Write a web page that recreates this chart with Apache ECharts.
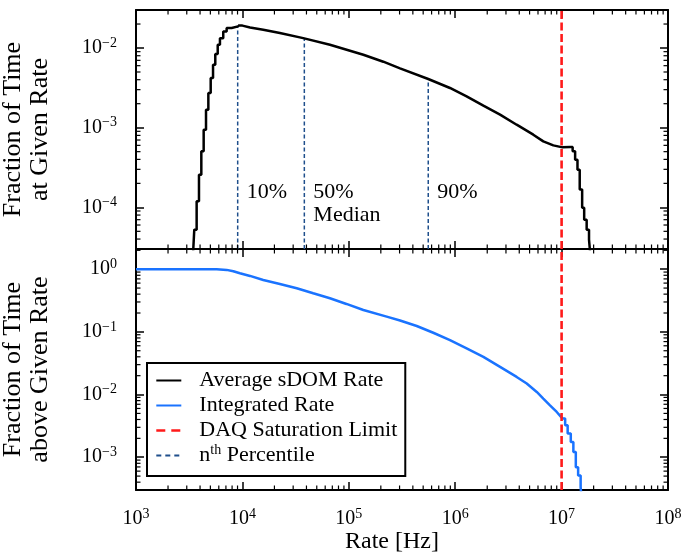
<!DOCTYPE html>
<html>
<head>
<meta charset="utf-8">
<script src="https://cdn.jsdelivr.net/npm/echarts@6/dist/echarts.min.js"></script>
<style>
html,body{margin:0;padding:0;background:#fff;}
#chart{width:685px;height:556px;}
</style>
</head>
<body>
<div id="chart"></div>
<script>
// ---------- data ----------
// Average sDOM rate histogram: rising edge (stepped)
const rateRise = [3400, 3530, 3715, 3908, 4111, 4325, 4550, 4786, 5035, 5297, 5561, 5861, 6152, 6607, 7112, 7925, 9103];
const fracRise = [2e-5, 5.25e-5, 1.19e-4, 2.57e-4, 5.05e-4, 9.44e-4, 1.68e-3, 2.72e-3, 4.20e-3, 6.17e-3, 8.41e-3, 1.10e-2, 1.33e-2, 1.61e-2, 1.78e-2, 1.87e-2, 1.92e-2];
// main body (fine bins)
const rateMain = [9103, 1.0e4, 1.18e4, 1.57e4, 2.25e4, 3.73e4, 6.65e4, 1.37e5, 2.11e5, 3.03e5, 5.58e5, 8.93e5, 1.28e6, 1.84e6, 2.64e6, 3.78e6, 5.42e6, 6.73e6, 8.36e6, 1.02e7, 1.20e7];
const fracMain = [1.92e-2, 1.91e-2, 1.81e-2, 1.70e-2, 1.54e-2, 1.33e-2, 1.10e-2, 8.24e-3, 6.73e-3, 5.56e-3, 4.08e-3, 3.15e-3, 2.47e-3, 1.89e-3, 1.46e-3, 1.09e-3, 8.17e-4, 6.73e-4, 6.00e-4, 5.66e-4, 5.73e-4];
// falling edge (stepped)
const rateFall = [1.20e7, 1.27e7, 1.34e7, 1.41e7, 1.48e7, 1.56e7, 1.63e7, 1.72e7, 1.81e7, 1.89e7];
const fracFall = [5.73e-4, 5.05e-4, 3.97e-4, 2.97e-4, 1.67e-4, 9.9e-5, 7.0e-5, 5.25e-5, 3.93e-5, 2e-5];
// Integrated rate (fraction of time above given rate)
const rateInt = [1000, 5730, 7110, 8220, 9480, 1.18e4, 1.57e4, 2.25e4, 3.24e4, 4.63e4, 6.65e4, 9.5e4, 1.37e5, 2.27e5, 3.03e5, 4.35e5, 6.22e5, 8.93e5, 1.28e6, 1.84e6, 2.64e6, 3.78e6, 4.70e6, 5.84e6, 6.73e6, 7.78e6, 9.0e6, 1.02e7];
const fracInt = [1.0, 1.0, 0.975, 0.929, 0.863, 0.781, 0.674, 0.582, 0.497, 0.413, 0.344, 0.279, 0.223, 0.175, 0.152, 0.124, 0.0968, 0.0739, 0.0545, 0.0400, 0.0277, 0.0191, 0.0150, 0.0110, 8.63e-3, 6.74e-3, 5.27e-3, 4.13e-3];
const rateIntTail = [1.02e7, 1.08e7, 1.14e7, 1.22e7, 1.29e7, 1.36e7, 1.43e7, 1.51e7, 1.55e7];
const fracIntTail = [4.13e-3, 3.23e-3, 2.38e-3, 1.75e-3, 1.21e-3, 6.95e-4, 5.12e-4, 3.33e-4, 2e-4];
// percentiles
const percentileRates = [9030, 38200, 558000];
const percentileFracs = [1.92e-2, 1.33e-2, 4.08e-3];
const percentileLabels = ['10%', '50%\nMedian', '90%'];
const percentileLabelLevel = 2.19e-4;
const daqLimit = 1e7;
// axes
const xRange = [1e3, 1e8];
const yTopRange = [3e-5, 3e-2];
const yBotRange = [3e-4, 2.1];

const seriesNames = ['Average sDOM Rate', 'Integrated Rate', 'DAQ Saturation Limit', 'nth Percentile'];

// ---------- helpers ----------
const zip = (a, b) => a.map((v, i) => [v, b[i]]);
function minorValues(lo, hi) {
  const out = [];
  for (let e = Math.floor(Math.log10(lo)); e <= Math.ceil(Math.log10(hi)); e++) {
    for (let m = 2; m <= 9; m++) {
      const v = m * Math.pow(10, e);
      if (v > lo * 1.0001 && v < hi * 0.9999) out.push(v);
    }
  }
  return out;
}
function powLabel(value) {
  const l = Math.log10(value);
  const e = Math.round(l);
  if (Math.abs(l - e) > 1e-6) return '';
  const s = e < 0 ? '\u2212' + (-e) : String(e);
  return '{b|10}{s|' + s + '}';
}
const FONT = 'Liberation Serif';
const labelRich = {
  b: { fontSize: 20, lineHeight: 24, fontFamily: FONT, color: '#000' },
  s: { fontSize: 14, lineHeight: 14, fontFamily: FONT, color: '#000', verticalAlign: 'top' }
};

const G = [
  { left: 136, top: 10, width: 532, height: 239, containLabel: false, outerBoundsMode: 'none' },
  { left: 136, top: 249, width: 532, height: 241, containLabel: false, outerBoundsMode: 'none' }
];

function xAxisDef(grid, pos, showLabel, name) {
  return {
    type: 'log', logBase: 10, gridIndex: grid, position: pos,
    min: xRange[0], max: xRange[1],
    axisLine: { show: true, onZero: false, lineStyle: { color: '#000', width: 2 } },
    axisTick: { show: true, inside: true, length: 8, lineStyle: { color: '#000', width: 1.5 } },
    axisLabel: { show: showLabel, formatter: powLabel, rich: labelRich, margin: 17, hideOverlap: false },
    splitLine: { show: false },
    name: name || '', nameLocation: 'middle', nameGap: 38,
    nameTextStyle: { fontFamily: FONT, fontSize: 24, color: '#000', padding: [0, 20, 0, 0] }
  };
}
function yAxisDef(grid, pos, range, showLabel, name) {
  return {
    type: 'log', logBase: 10, gridIndex: grid, position: pos,
    min: range[0], max: range[1],
    axisLine: { show: true, onZero: false, lineStyle: { color: '#000', width: 2 } },
    axisTick: { show: true, inside: true, length: 8, lineStyle: { color: '#000', width: 1.5 } },
    axisLabel: { show: showLabel, formatter: powLabel, rich: labelRich, margin: 19, hideOverlap: false },
    splitLine: { show: false },
    name: name || '', nameLocation: 'middle', nameRotate: 90, nameGap: 82,
    nameTextStyle: { fontFamily: FONT, fontSize: 26, lineHeight: 27, color: '#000' }
  };
}

// minor (log 2..9) ticks as tiny rect markers placed through the axis scales
function minorXTicks(xi, yi, yRange) {
  const vals = minorValues(xRange[0], xRange[1]);
  const base = { type: 'scatter', xAxisIndex: xi, yAxisIndex: yi, silent: true, z: 6, clip: false,
    symbol: 'rect', symbolSize: [1.2, 4.5], itemStyle: { color: '#000', opacity: 1 } };
  return [
    Object.assign({}, base, { data: vals.map(v => [v, yRange[0]]), symbolOffset: [0, -2.25] }),
    Object.assign({}, base, { data: vals.map(v => [v, yRange[1]]), symbolOffset: [0, 2.25] })
  ];
}
function minorYTicks(xi, yi, yRange) {
  const vals = minorValues(yRange[0], yRange[1]);
  const base = { type: 'scatter', xAxisIndex: xi, yAxisIndex: yi, silent: true, z: 6, clip: false,
    symbol: 'rect', symbolSize: [4.5, 1.2], itemStyle: { color: '#000', opacity: 1 } };
  return [
    Object.assign({}, base, { data: vals.map(v => [xRange[0], v]), symbolOffset: [2.25, 0] }),
    Object.assign({}, base, { data: vals.map(v => [xRange[1], v]), symbolOffset: [-2.25, 0] })
  ];
}

const blackStyle = { color: '#000', width: 2.5 };
const blueStyle = { color: '#1a73ff', width: 2.5 };
const redStyle = { color: '#ff1a1a', width: 2.6, type: [8, 3.5] };
const navyStyle = { color: '#1f4f8c', width: 1.5, type: [4, 2.5] };

function lineSeries(name, xi, yi, data, style, step, z) {
  return {
    name, type: 'line', xAxisIndex: xi, yAxisIndex: yi, data,
    symbol: 'none', showSymbol: false, step: step || false, smooth: false,
    lineStyle: style, itemStyle: { color: style.color },
    clip: true, z: z || 3, animation: false, silent: true
  };
}

const series = [
  lineSeries(seriesNames[0], 0, 0, zip(rateRise, fracRise), blackStyle, 'end'),
  lineSeries(seriesNames[0], 0, 0, zip(rateMain, fracMain), blackStyle),
  lineSeries(seriesNames[0], 0, 0, zip(rateFall, fracFall), blackStyle, 'end'),
  lineSeries(seriesNames[1], 2, 2, zip(rateInt, fracInt), blueStyle),
  lineSeries(seriesNames[1], 2, 2, zip(rateIntTail, fracIntTail), blueStyle, 'end'),
  lineSeries(seriesNames[2], 0, 0, [[daqLimit, yTopRange[0]], [daqLimit, yTopRange[1]]], redStyle, false, 4),
  lineSeries(seriesNames[2], 2, 2, [[daqLimit, yBotRange[0]], [daqLimit, yBotRange[1]]], redStyle, false, 4)
];
percentileRates.forEach((r, i) => {
  series.push(lineSeries(seriesNames[3], 0, 0, [[r, yTopRange[0]], [r, percentileFracs[i]]], navyStyle, false, 2));
});
series.push({
  type: 'scatter', xAxisIndex: 0, yAxisIndex: 0, symbolSize: 0, silent: true, z: 5,
  itemStyle: { opacity: 1 },
  data: percentileRates.map((r, i) => [r, percentileLabelLevel, percentileLabels[i]]),
  label: {
    show: true, position: 'right', distance: 9, verticalAlign: 'top', align: 'left',
    formatter: p => p.data[2],
    fontFamily: FONT, fontSize: 22, lineHeight: 23, color: '#000', opacity: 1
  }
});
series.push(...minorXTicks(0, 0, yTopRange));
series.push(...minorXTicks(2, 2, yBotRange));
series.push(...minorYTicks(0, 0, yTopRange));
series.push(...minorYTicks(2, 2, yBotRange));

const option = {
  animation: false,
  backgroundColor: '#fff',
  textStyle: { fontFamily: FONT },
  grid: G,
  xAxis: [
    xAxisDef(0, 'bottom', false),
    xAxisDef(0, 'top', false),
    xAxisDef(1, 'bottom', true, 'Rate [Hz]'),
    xAxisDef(1, 'top', false)
  ],
  yAxis: [
    yAxisDef(0, 'left', yTopRange, true, 'Fraction of Time\nat Given Rate'),
    yAxisDef(0, 'right', yTopRange, false),
    yAxisDef(1, 'left', yBotRange, true, 'Fraction of Time\nabove Given Rate'),
    yAxisDef(1, 'right', yBotRange, false)
  ],
  legend: {
    data: [
      { name: seriesNames[0] },
      { name: seriesNames[1] },
      { name: seriesNames[2], lineStyle: { type: [9, 6], width: 2.6 } },
      { name: seriesNames[3], lineStyle: { type: [5, 4], width: 1.8 } }
    ],
    orient: 'vertical', left: 147, top: 363,
    backgroundColor: '#fff', borderColor: '#000', borderWidth: 2, borderRadius: 0,
    padding: [5, 8, 8, 8],
    itemWidth: 25, itemHeight: 14, itemGap: 0,
    selectedMode: false,
    itemStyle: { opacity: 0 },
    formatter: n => n === 'nth Percentile' ? 'n{sup|th} Percentile' : n,
    textStyle: {
      fontFamily: FONT, fontSize: 22, lineHeight: 25, color: '#000', padding: [0, 0, 0, 13],
      rich: {
        sup: { fontFamily: FONT, fontSize: 14, lineHeight: 14, verticalAlign: 'top', color: '#000' }
      }
    }
  },
  series
};

const chart = echarts.init(document.getElementById('chart'), null, { renderer: 'canvas' });
chart.setOption(option);
</script>
</body>
</html>
